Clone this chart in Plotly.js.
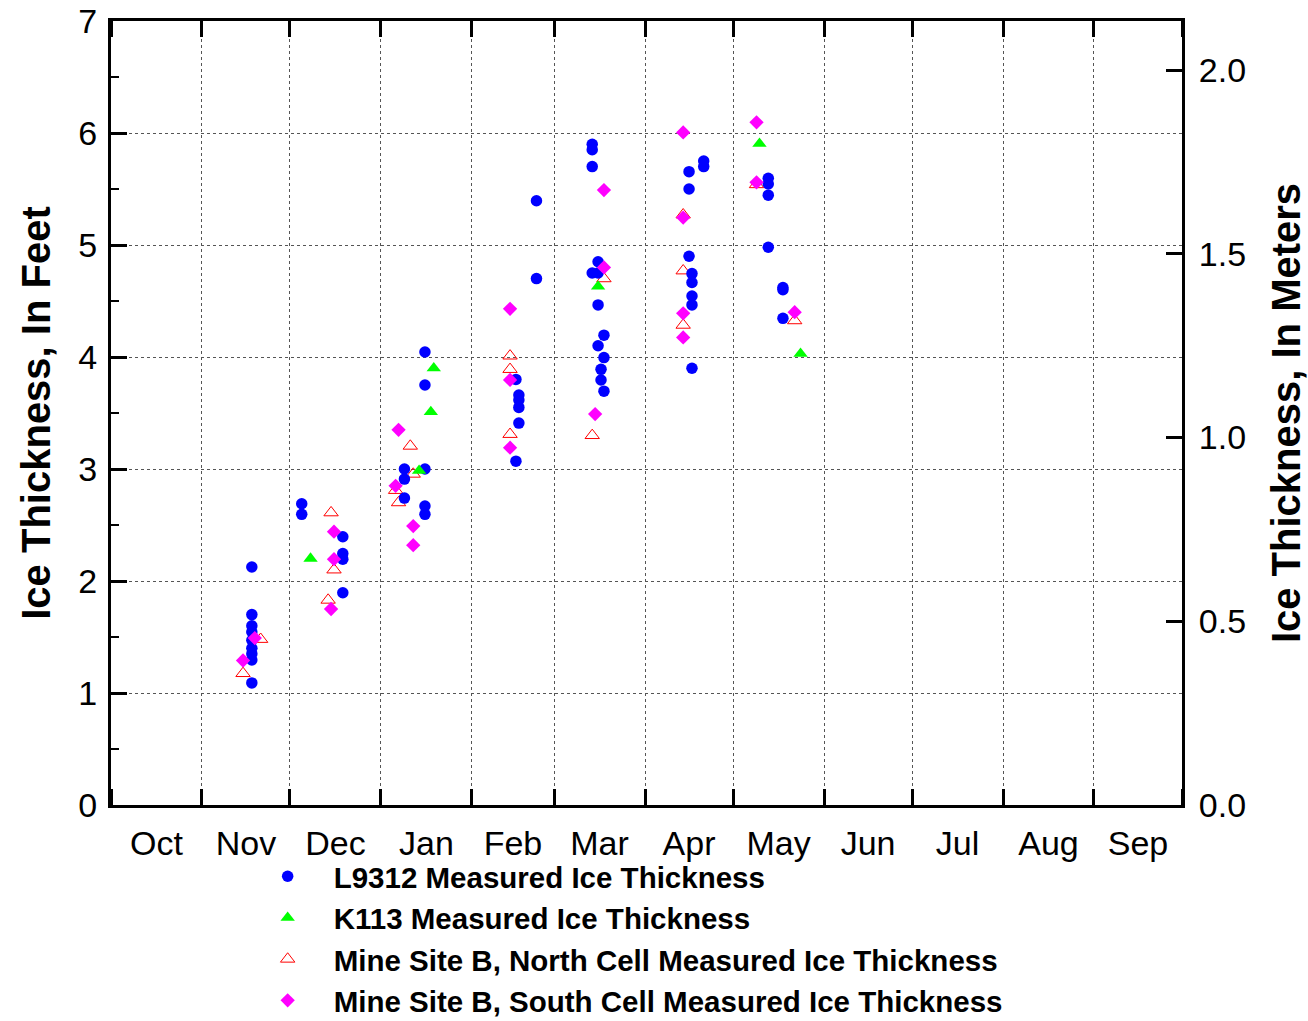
<!DOCTYPE html>
<html>
<head>
<meta charset="utf-8">
<script src="https://cdn.plot.ly/plotly-3.0.1.min.js"></script>
<style>
  html, body { margin: 0; padding: 0; background: #fff; }
  #chart { width: 1308px; height: 1021px; }
</style>
</head>
<body>
<div id="chart"></div>
<script>
// Measured ice thickness (feet) by sampling date, one pair of arrays per site.
const l9312Dates = [
  '2001-11-18','2001-11-18','2001-11-18','2001-11-18','2001-11-18','2001-11-18','2001-11-18','2001-11-18','2001-11-18',
  '2001-12-05','2001-12-05',
  '2001-12-19','2001-12-19','2001-12-19','2001-12-19',
  '2002-01-09','2002-01-09','2002-01-09',
  '2002-01-16','2002-01-16','2002-01-16','2002-01-16','2002-01-16',
  '2002-02-16','2002-02-16',
  '2002-02-17','2002-02-17','2002-02-17','2002-02-17',
  '2002-02-23','2002-02-23',
  '2002-03-14','2002-03-14','2002-03-14','2002-03-14',
  '2002-03-16','2002-03-16','2002-03-16','2002-03-16',
  '2002-03-17','2002-03-17',
  '2002-03-18','2002-03-18','2002-03-18',
  '2002-04-16','2002-04-16','2002-04-16',
  '2002-04-17','2002-04-17','2002-04-17','2002-04-17','2002-04-17',
  '2002-04-21','2002-04-21',
  '2002-05-13','2002-05-13','2002-05-13','2002-05-13',
  '2002-05-18','2002-05-18','2002-05-18'
];
const l9312Feet = [
  2.125, 1.70, 1.60, 1.545, 1.47, 1.40, 1.35, 1.295, 1.09,
  2.69, 2.595,
  2.395, 2.245, 2.195, 1.895,
  3.00, 2.91, 2.74,
  4.045, 3.75, 3.00, 2.67, 2.595,
  3.80, 3.07,
  3.66, 3.615, 3.55, 3.41,
  5.395, 4.70,
  5.90, 5.85, 5.70, 4.75,
  4.85, 4.75, 4.465, 4.10,
  3.89, 3.795,
  4.195, 3.995, 3.695,
  5.655, 5.50, 4.90,
  4.745, 4.665, 4.545, 4.465, 3.90,
  5.75, 5.70,
  5.595, 5.545, 5.445, 4.98,
  4.62, 4.60, 4.345
];

const k113Dates = ['2001-12-08','2002-01-14','2002-01-18','2002-01-19','2002-03-16','2002-05-10','2002-05-24'];
const k113Feet  = [2.20, 2.985, 3.51, 3.90, 4.63, 5.905, 4.03];

const northDates = [
  '2001-11-15','2001-11-21','2001-12-14','2001-12-15','2001-12-16',
  '2002-01-06','2002-01-07','2002-01-11','2002-01-12',
  '2002-02-14','2002-02-14','2002-02-14',
  '2002-03-14','2002-03-18',
  '2002-04-14','2002-04-14','2002-04-14',
  '2002-05-09','2002-05-22'
];
const northFeet = [
  1.175, 1.48, 1.83, 2.61, 2.10,
  2.81, 2.70, 3.205, 2.955,
  4.01, 3.89, 3.31,
  3.30, 4.70,
  5.27, 4.77, 4.285,
  5.54, 4.325
];

const southDates = [
  '2001-11-15','2001-11-19','2001-12-15','2001-12-16','2001-12-16',
  '2002-01-06','2002-01-07','2002-01-12','2002-01-12',
  '2002-02-14','2002-02-14','2002-02-14',
  '2002-03-15','2002-03-18','2002-03-18',
  '2002-04-14','2002-04-14','2002-04-14','2002-04-14',
  '2002-05-09','2002-05-09','2002-05-22'
];
const southFeet = [
  1.29, 1.49, 1.75, 2.44, 2.195,
  2.85, 3.35, 2.49, 2.32,
  4.43, 3.795, 3.19,
  3.49, 5.49, 4.80,
  6.005, 5.245, 4.39, 4.175,
  6.095, 5.56, 4.40
];

const seriesNames = [
  'L9312 Measured Ice Thickness',
  'K113 Measured Ice Thickness',
  'Mine Site B, North Cell Measured Ice Thickness',
  'Mine Site B, South Cell Measured Ice Thickness'
];

const FEET_TO_M = 0.3048;
const feetRange = [0, 7];
const FONT = 'Liberation Sans, Arial, Helvetica, sans-serif';

// Drawn bottom-to-top: open triangles, circles, filled triangles, diamonds.
const traces = [
  {
    x: northDates, y: northFeet, name: seriesNames[2], legendrank: 3,
    type: 'scatter', mode: 'markers',
    marker: { symbol: 'triangle-up-open', size: 12.5, color: '#ff0000', line: { width: 1, color: '#ff0000' } }
  },
  {
    x: l9312Dates, y: l9312Feet, name: seriesNames[0], legendrank: 1,
    type: 'scatter', mode: 'markers',
    marker: { symbol: 'circle', size: 11.5, color: '#0000ff' }
  },
  {
    x: k113Dates, y: k113Feet, name: seriesNames[1], legendrank: 2,
    type: 'scatter', mode: 'markers',
    marker: { symbol: 'triangle-up', size: 12.5, color: '#00ff00' }
  },
  {
    x: southDates, y: southFeet, name: seriesNames[3], legendrank: 4,
    type: 'scatter', mode: 'markers',
    marker: { symbol: 'diamond', size: 11, color: '#ff00ff' }
  },
  // Empty trace that carries the metric axis on the right.
  { x: [], y: [], yaxis: 'y2', showlegend: false, hoverinfo: 'skip', type: 'scatter', mode: 'markers' }
];

const layout = {
  width: 1308,
  height: 1021,
  margin: { l: 111, r: 126, t: 21, b: 216, pad: 0, autoexpand: false },
  paper_bgcolor: '#ffffff',
  plot_bgcolor: '#ffffff',
  font: { family: FONT, color: '#000000', size: 34 },
  showlegend: true,
  legend: {
    x: 0.122, xanchor: 'left',
    y: -0.0582, yanchor: 'top',
    orientation: 'v',
    itemwidth: 82,
    font: { family: FONT, size: 29.5, weight: 'bold', color: '#000000' },
    bgcolor: 'rgba(0,0,0,0)',
    borderwidth: 0,
    traceorder: 'normal'
  },
  xaxis: {
    type: 'date',
    range: ['2001-10-01', '2002-10-01'],
    tick0: '2001-10-01',
    dtick: 'M1',
    tickformat: '%b',
    ticklabelmode: 'period',
    ticks: 'inside',
    ticklen: 16,
    tickwidth: 3,
    tickcolor: '#000000',
    showline: true,
    linewidth: 3,
    linecolor: '#000000',
    mirror: 'ticks',
    showgrid: true,
    gridcolor: '#555555',
    gridwidth: 1,
    griddash: 'dot',
    zeroline: false,
    tickfont: { family: FONT, size: 34, color: '#000000' },
    ticklabelstandoff: 6,
    fixedrange: true
  },
  yaxis: {
    range: feetRange,
    tick0: 0,
    dtick: 1,
    ticks: 'inside',
    ticklen: 16,
    tickwidth: 3,
    tickcolor: '#000000',
    minor: { dtick: 0.5, ticks: 'inside', ticklen: 8, tickwidth: 2, tickcolor: '#000000', showgrid: false },
    showline: true,
    linewidth: 3,
    linecolor: '#000000',
    showgrid: true,
    gridcolor: '#555555',
    gridwidth: 1,
    griddash: 'dot',
    zeroline: false,
    tickfont: { family: FONT, size: 34, color: '#000000' },
    ticklabelstandoff: 4,
    title: {
      text: 'Ice Thickness, In Feet',
      font: { family: FONT, size: 40, weight: 'bold', color: '#000000' },
      standoff: 16
    },
    fixedrange: true
  },
  yaxis2: {
    overlaying: 'y',
    side: 'right',
    range: [feetRange[0] * FEET_TO_M, feetRange[1] * FEET_TO_M],
    tick0: 0,
    dtick: 0.5,
    tickformat: '.1f',
    ticks: 'inside',
    ticklen: 16,
    tickwidth: 3,
    tickcolor: '#000000',
    showline: true,
    linewidth: 3,
    linecolor: '#000000',
    showgrid: false,
    zeroline: false,
    tickfont: { family: FONT, size: 34, color: '#000000' },
    ticklabelstandoff: 7,
    title: {
      text: 'Ice Thickness, In Meters',
      font: { family: FONT, size: 40, weight: 'bold', color: '#000000' },
      standoff: 28
    },
    fixedrange: true
  }
};

Plotly.newPlot('chart', traces, layout, { displayModeBar: false, staticPlot: true });
</script>
</body>
</html>
